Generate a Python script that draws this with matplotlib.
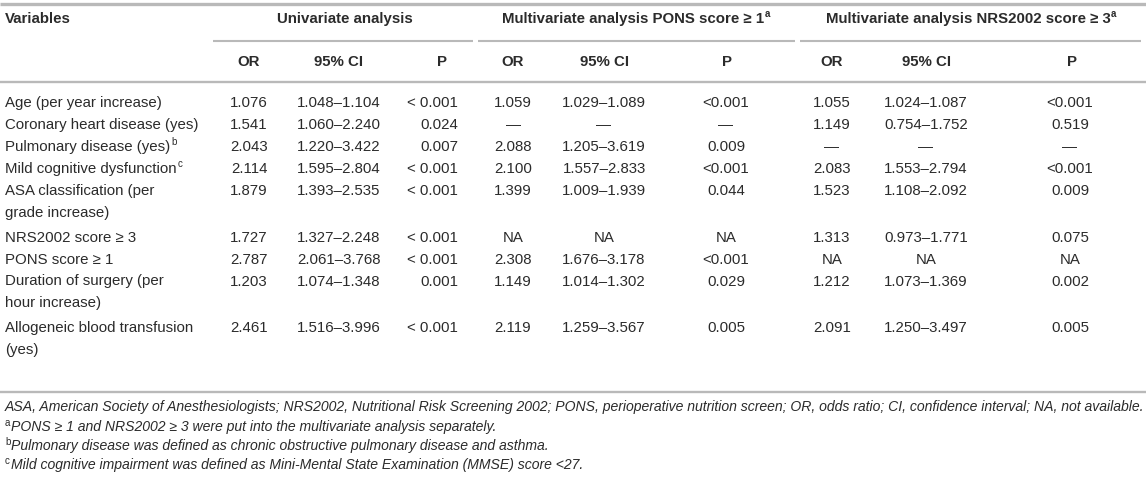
import matplotlib.pyplot as plt

W, H = 1146, 480

variables = ["Age (per year increase)", "Coronary heart disease (yes)", "Pulmonary disease (yes)",
             "Mild cognitive dysfunction", "ASA classification (per\ngrade increase)",
             "NRS2002 score \u2265 3", "PONS score \u2265 1", "Duration of surgery (per\nhour increase)",
             "Allogeneic blood transfusion\n(yes)"]
var_sup = ["", "", "b", "c", "", "", "", "", ""]

uni_or = ["1.076", "1.541", "2.043", "2.114", "1.879", "1.727", "2.787", "1.203", "2.461"]
uni_ci = ["1.048\u20131.104", "1.060\u20132.240", "1.220\u20133.422", "1.595\u20132.804", "1.393\u20132.535",
          "1.327\u20132.248", "2.061\u20133.768", "1.074\u20131.348", "1.516\u20133.996"]
uni_p = ["< 0.001", "0.024", "0.007", "< 0.001", "< 0.001", "< 0.001", "< 0.001", "0.001", "< 0.001"]

pons_or = ["1.059", "\u2014", "2.088", "2.100", "1.399", "NA", "2.308", "1.149", "2.119"]
pons_ci = ["1.029\u20131.089", "\u2014", "1.205\u20133.619", "1.557\u20132.833", "1.009\u20131.939",
           "NA", "1.676\u20133.178", "1.014\u20131.302", "1.259\u20133.567"]
pons_p = ["<0.001", "\u2014", "0.009", "<0.001", "0.044", "NA", "<0.001", "0.029", "0.005"]

nrs_or = ["1.055", "1.149", "\u2014", "2.083", "1.523", "1.313", "NA", "1.212", "2.091"]
nrs_ci = ["1.024\u20131.087", "0.754\u20131.752", "\u2014", "1.553\u20132.794", "1.108\u20132.092",
          "0.973\u20131.771", "NA", "1.073\u20131.369", "1.250\u20133.497"]
nrs_p = ["<0.001", "0.519", "\u2014", "<0.001", "0.009", "0.075", "NA", "0.002", "0.005"]

group_titles = ["Univariate analysis", "Multivariate analysis PONS score \u2265 1",
                "Multivariate analysis NRS2002 score \u2265 3"]
group_sup = ["", "a", "a"]
sub_headers = ["OR", "95% CI", "P"]

footnotes = [
    ("", "ASA, American Society of Anesthesiologists; NRS2002, Nutritional Risk Screening 2002; PONS, "
         "perioperative nutrition screen; OR, odds ratio; CI, confidence interval; NA, not available."),
    ("a", "PONS \u2265 1 and NRS2002 \u2265 3 were put into the multivariate analysis separately."),
    ("b", "Pulmonary disease was defined as chronic obstructive pulmonary disease and asthma."),
    ("c", "Mild cognitive impairment was defined as Mini-Mental State Examination (MMSE) score <27."),
]

font = "Liberation Sans"

fig = plt.figure(figsize=(W / 100, H / 100), dpi=100)
ax = fig.add_axes([0, 0, 1, 1])
ax.set_xlim(0, W)
ax.set_ylim(H, 0)
ax.axis("off")

FS = 10.8
txt = "#2b2b2b"
rule = "#b9b9b9"


def sup(t, s, fs=7, **kw):
    if s:
        ax.annotate(s, xy=(1, 1), xycoords=t, xytext=(0.6, 2), textcoords="offset points",
                    va="top", ha="left", fontsize=fs, color=txt, family=font, **kw)


# column layout
groups = [
    dict(x0=213, x1=473, cols=[249, 339, 458], ha=["center", "center", "right"], hx=[249, 339, 442],
         data=[uni_or, uni_ci, uni_p], tx=345),
    dict(x0=478, x1=795, cols=[513, 604, 726], ha=["center"] * 3, hx=[513, 604, 727],
         data=[pons_or, pons_ci, pons_p], tx=633),
    dict(x0=800, x1=1141, cols=[832, 926, 1070], ha=["center"] * 3, hx=[832, 926, 1072],
         data=[nrs_or, nrs_ci, nrs_p], tx=968),
]

# rules
ax.plot([0, W], [4, 4], color=rule, lw=2.4, solid_capstyle="butt")
ax.plot([0, W], [82, 82], color=rule, lw=1.7, solid_capstyle="butt")
ax.plot([0, W], [392, 392], color=rule, lw=1.7, solid_capstyle="butt")

ax.text(5, 19, "Variables", fontsize=FS, fontweight="bold", family=font, color=txt, va="center")
for g, title, s in zip(groups, group_titles, group_sup):
    t = ax.text(g["tx"], 19, title, fontsize=FS, fontweight="bold", family=font, color=txt,
                va="center", ha="center")
    sup(t, s, fontweight="bold")
    ax.plot([g["x0"], g["x1"]], [41, 41], color=rule, lw=1.5, solid_capstyle="butt")
    for hx, sh in zip(g["hx"], sub_headers):
        ax.text(hx, 62, sh, fontsize=FS, fontweight="bold", family=font, color=txt,
                va="center", ha="center")

# body rows
line_h = 22
y = 103
for i, name in enumerate(variables):
    lines = name.split("\n")
    for k, ln in enumerate(lines):
        t = ax.text(5, y + k * line_h, ln, fontsize=FS, family=font, color=txt, va="center")
        if k == 0:
            sup(t, var_sup[i])
    for g in groups:
        for cx, ha, col in zip(g["cols"], g["ha"], g["data"]):
            ax.text(cx, y, col[i], fontsize=FS, family=font, color=txt, va="center", ha=ha)
    y += line_h * len(lines) + (2.5 if len(lines) > 1 else 0)

# footnotes
fy = [407, 427, 446, 465]
for (s, note), yy in zip(footnotes, fy):
    x = 5
    if s:
        ax.text(x, yy - 4, s, fontsize=7, family=font, color=txt, va="center")
        x = 11
    ax.text(x, yy, note, fontsize=10.05, style="italic", family=font, color=txt, va="center")

fig.savefig("out.png", dpi=100)
